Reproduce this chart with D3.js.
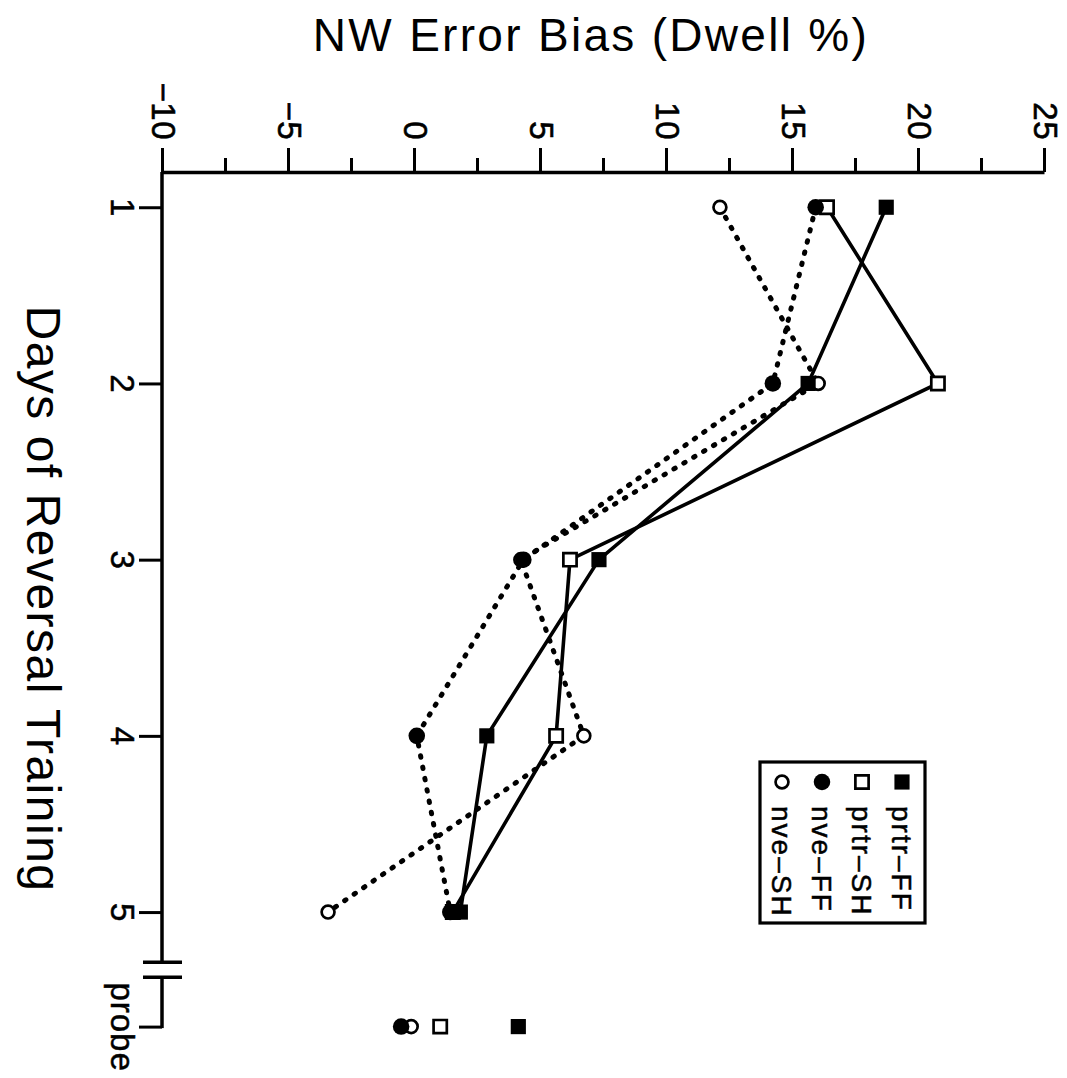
<!DOCTYPE html>
<html><head><meta charset="utf-8">
<script src="https://cdn.jsdelivr.net/npm/d3@7"></script>
<style>
body{margin:0;background:#fff;}
svg{display:block;font-family:"Liberation Sans",Arial,Helvetica,sans-serif;}
</style>
</head><body><div id="chart"></div>
<script>
// ---- data ----
const categories = ["1","2","3","4","5","probe"];
const valueTicks = [-10,-5,0,5,10,15,20,25];
const minorTicks = [-7.5,-2.5,2.5,7.5,12.5,17.5,22.5];
const seriesNames = ["prtr-FF","prtr-SH","nve-FF","nve-SH"];
// values for days 1..5, then probe
const prtrFF = [18.7, 15.6, 7.3, 2.85, 1.8, 4.1];
const prtrSH = [16.35, 20.75, 6.15, 5.6, 1.5, 1.0];
const nveFF  = [15.9, 14.2, 4.3, 0.07, 1.4, -0.55];
const nveSH  = [12.1, 16.0, 4.2, 6.7, -3.45, -0.15];

// ---- layout ----
const W = 1067, H = 1078;
const PROBE_POS = 5.65, AXIS_START = 0.8, BREAK_A = 5.285, BREAK_B = 5.37;
const svg = d3.select("#chart").append("svg").attr("width", W).attr("height", H);
svg.append("rect").attr("width", W).attr("height", H).attr("fill", "#fff");

// chart drawn in a normal frame, then rotated 90deg clockwise
const g = svg.append("g").attr("transform", `translate(${W},0) rotate(90)`);
const y = d3.scaleLinear().domain([-10, 25]).range([904, 22]);
const x = d3.scaleLinear().domain([AXIS_START, PROBE_POS]).range([172, 1026.6]);
const valAxisX = x(AXIS_START);
const dayAxisY = y(-10) + 1;
const pos = i => i < 5 ? x(i + 1) : x(PROBE_POS);
const FONT = '"Liberation Sans",Arial,sans-serif';

// value axis (top of picture)
const va = g.append("g").attr("transform", `translate(${valAxisX},0)`)
  .call(d3.axisLeft(y).tickValues(valueTicks).tickSize(24).tickPadding(8).tickSizeOuter(0));
va.select(".domain").attr("stroke-width", 3.5).attr("stroke", "#000");
va.selectAll(".tick line").attr("stroke-width", 3).attr("stroke", "#000");
va.selectAll(".tick text").attr("font-size", 33).attr("fill", "#000")
  .attr("font-family", FONT).attr("letter-spacing", 0.5)
  .attr("stroke", "#000").attr("stroke-width", 0.6);
const vm = g.append("g").attr("transform", `translate(${valAxisX},0)`)
  .call(d3.axisLeft(y).tickValues(minorTicks).tickSize(14).tickFormat(""));
vm.select(".domain").remove();
vm.selectAll(".tick line").attr("stroke-width", 3).attr("stroke", "#000");

// day axis (left of picture)
const tickPos = categories.map((c, i) => i < 5 ? i + 1 : PROBE_POS);
const da = g.append("g").attr("transform", `translate(0,${dayAxisY})`)
  .call(d3.axisBottom(x).tickValues(tickPos).tickSize(23).tickPadding(5)
        .tickFormat((d, i) => categories[i]));
da.select(".domain").remove();
da.selectAll(".tick line").attr("stroke-width", 3).attr("stroke", "#000");
da.selectAll(".tick text").attr("font-size", 33).attr("fill", "#000")
  .attr("font-family", FONT).attr("letter-spacing", 1)
  .attr("stroke", "#000").attr("stroke-width", 0.5);
const seg = [[AXIS_START, BREAK_A], [BREAK_B, PROBE_POS]];
g.selectAll(".dseg").data(seg).join("line").attr("class", "dseg")
  .attr("x1", d => x(d[0])).attr("x2", d => x(d[1]) + 1.5)
  .attr("y1", dayAxisY).attr("y2", dayAxisY)
  .attr("stroke", "#000").attr("stroke-width", 3.5);
g.selectAll(".brk").data([BREAK_A, BREAK_B]).join("line").attr("class", "brk")
  .attr("x1", d => x(d)).attr("x2", d => x(d))
  .attr("y1", dayAxisY - 20).attr("y2", dayAxisY + 19)
  .attr("stroke", "#000").attr("stroke-width", 3.5);

// series
const series = [
  {name: "nve-SH", vals: nveSH, sym: d3.symbolCircle, fill: "#fff", size: 130, dotted: true},
  {name: "prtr-SH", vals: prtrSH, sym: d3.symbolSquare, fill: "#fff", size: 175, dotted: false},
  {name: "nve-FF", vals: nveFF, sym: d3.symbolCircle, fill: "#000", size: 215, dotted: true},
  {name: "prtr-FF", vals: prtrFF, sym: d3.symbolSquare, fill: "#000", size: 230, dotted: false}
];
const line = d3.line().x((d, i) => pos(i)).y(d => y(d));
series.forEach(s => {
  g.append("path").datum(s.vals.slice(0, 5)).attr("d", line)
    .attr("fill", "none").attr("stroke", "#000")
    .attr("stroke-width", s.dotted ? 5 : 3.6)
    .attr("stroke-dasharray", s.dotted ? "1.5,10" : null)
    .attr("stroke-linecap", s.dotted ? "round" : "butt");
});
series.forEach(s => {
  g.selectAll(null).data(s.vals).join("path")
    .attr("transform", (d, i) => `translate(${pos(i)},${y(d)})`)
    .attr("d", d3.symbol().type(s.sym).size(s.size))
    .attr("fill", s.fill).attr("stroke", "#000")
    .attr("stroke-width", s.fill === "#000" ? 0 : 2.7);
});

// legend
const legendOrder = ["prtr-FF","prtr-SH","nve-FF","nve-SH"];
g.append("rect").attr("x", 762).attr("y", 142).attr("width", 161).attr("height", 165)
  .attr("fill", "#fff").attr("stroke", "#000").attr("stroke-width", 3.2);
legendOrder.forEach((nm, i) => {
  const s = series.find(t => t.name === nm);
  const ry = 165 + i * 40;
  g.append("path").attr("transform", `translate(782,${ry})`)
    .attr("d", d3.symbol().type(s.sym).size(s.size))
    .attr("fill", s.fill).attr("stroke", "#000").attr("stroke-width", s.fill === "#000" ? 0 : 2.7);
  g.append("text").attr("x", 806).attr("y", ry).attr("dy", "0.36em")
    .attr("font-size", 28).attr("letter-spacing", 2)
    .attr("stroke", "#000").attr("stroke-width", 0.5)
    .text(nm.replace("-", "\u2013"));
});

// titles
svg.append("text").attr("x", 591).attr("y", 51).attr("text-anchor", "middle")
  .attr("font-size", 46).attr("letter-spacing", 2.3).text("NW Error Bias (Dwell %)");
svg.append("text").attr("transform", "translate(27,599) rotate(90)").attr("text-anchor", "middle")
  .attr("font-size", 48).attr("letter-spacing", 1.5).text("Days of Reversal Training");
</script>
</body></html>
